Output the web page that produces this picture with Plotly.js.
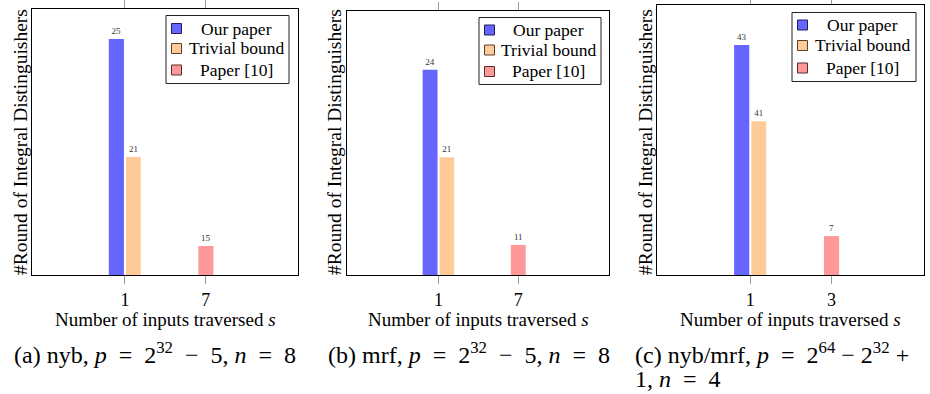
<!DOCTYPE html>
<html>
<head>
<meta charset="utf-8">
<script src="https://cdn.plot.ly/plotly-3.0.1.min.js"></script>
<style>html,body{margin:0;padding:0;background:#fff;}#chart{width:930px;height:394px;}</style>
</head>
<body>
<div id="chart"></div>
<script>
// ---- data ----
const seriesNames = ['Our paper', 'Trivial bound', 'Paper [10]'];
const seriesColors = ['rgb(102,102,255)', 'rgb(255,203,153)', 'rgb(255,153,153)'];
const swatchBorders = ['rgb(30,30,90)', 'rgb(90,65,40)', 'rgb(90,45,45)'];

// panel (a): nyb, p = 2^32 - 5, n = 8
const aTicks = ['1', '7'];
const aSeriesS = ['1', '1', '7'];          // s value of each series' bar
const aLabels = [25, 21, 15];              // printed value on each bar
const aHeights = [88.7, 44.4, 10.9];

// panel (b): mrf, p = 2^32 - 5, n = 8
const bTicks = ['1', '7'];
const bSeriesS = ['1', '1', '7'];
const bLabels = [24, 21, 11];
const bHeights = [77.7, 44.6, 11.4];

// panel (c): nyb/mrf, p = 2^64 - 2^32 + 1, n = 4
const cTicks = ['1', '3'];
const cSeriesS = ['1', '1', '3'];
const cLabels = [43, 41, 7];
const cHeights = [85.2, 56.9, 14.4];

const xTitle = 'Number of inputs traversed <i>s</i>';
const yTitle = '#Round of Integral Distinguishers';
const captions = [
  '(a) nyb, <i>p</i>\u2002=\u20022<sup>32</sup>\u2002\u2212\u20025, <i>n</i>\u2002=\u20028',
  '(b) mrf, <i>p</i>\u2002=\u20022<sup>32</sup>\u2002\u2212\u20025, <i>n</i>\u2002=\u20028',
  '(c) nyb/mrf, <i>p</i>\u2002=\u20022<sup>64</sup>\u2005\u2212\u20052<sup>32</sup>\u2005+',
  '1, <i>n</i>\u2002=\u20024'
];

// ---- layout geometry (pixels) ----
const W = 930, H = 394;
const FONT = "'Liberation Serif', 'DejaVu Serif', serif";
const panels = [
  {ticks: aTicks, S: aSeriesS, labels: aLabels, heights: aHeights,
   box: [32, 298, 9, 275], legend: [166, 289, 15.5, 83.5], rows: [28.5, 48.5, 70], capX: 12, capY: 353, yTitleX: 20},
  {ticks: bTicks, S: bSeriesS, labels: bLabels, heights: bHeights,
   box: [347, 609, 11, 275], legend: [479, 601, 17.5, 84.5], rows: [30, 50, 71.5], capX: 326, capY: 353, yTitleX: 334},
  {ticks: cTicks, S: cSeriesS, labels: cLabels, heights: cHeights,
   box: [657, 924, 5, 275], legend: [792, 916, 12.5, 81.5], rows: [25, 45.5, 68], capX: 633, capY: 353, yTitleX: 645}
];
const offsets = [-0.2, 0.0125, -0.093];
const widths = [0.187, 0.183, 0.187];

const px = x => x / W;
const py = y => 1 - y / H;

const traces = [];
const layout = {
  width: W, height: H, margin: {l: 0, r: 0, t: 0, b: 0},
  paper_bgcolor: '#fff', plot_bgcolor: '#fff',
  showlegend: false, barmode: 'overlay',
  font: {family: FONT, color: '#000'},
  annotations: [], shapes: []
};

panels.forEach((p, i) => {
  const k = i === 0 ? '' : String(i + 1);
  const [x0, x1, y0, y1] = p.box;
  layout['xaxis' + k] = {
    domain: [px(x0), px(x1)], anchor: 'y' + k, type: 'category',
    categoryorder: 'array', categoryarray: p.ticks,
    range: [-1.15, 2.14], showgrid: false, zeroline: false,
    showline: true, linecolor: '#000', linewidth: 1, mirror: 'ticks',
    ticks: 'outside', ticklen: 8, tickcolor: '#999', tickwidth: 1,
    tickfont: {family: FONT, size: 18, color: '#000'}, fixedrange: true
  };
  layout['yaxis' + k] = {
    domain: [py(y1), py(y0)], anchor: 'x' + k, range: [0, 100],
    showgrid: false, zeroline: false, showline: true, linecolor: '#000', linewidth: 1,
    mirror: true, ticks: '', showticklabels: false, fixedrange: true
  };
  seriesNames.forEach((name, j) => {
    traces.push({
      type: 'bar', name: name, xaxis: 'x' + k, yaxis: 'y' + k,
      x: [p.S[j]], y: [p.heights[j]], text: [String(p.labels[j])],
      textposition: 'outside', cliponaxis: false,
      textfont: {family: FONT, size: 9, color: '#333'},
      offset: offsets[j], width: widths[j],
      marker: {color: seriesColors[j], line: {width: 0}},
      hoverinfo: 'skip'
    });
  });
  // axis titles
  layout.annotations.push({
    xref: 'paper', yref: 'paper', x: px((x0 + x1) / 2), y: py(319),
    text: xTitle, showarrow: false, xanchor: 'center', yanchor: 'middle',
    font: {family: FONT, size: 19, color: '#000'}
  });
  layout.annotations.push({
    xref: 'paper', yref: 'paper', x: px(p.yTitleX), y: py(142),
    text: yTitle, showarrow: false, textangle: -90, xanchor: 'center', yanchor: 'middle',
    font: {family: FONT, size: 19.5, color: '#000'}
  });
  // caption
  layout.annotations.push({
    xref: 'paper', yref: 'paper', x: px(p.capX), y: py(p.capY),
    text: captions[i], showarrow: false, xanchor: 'left', yanchor: 'middle', align: 'left',
    font: {family: FONT, size: 24, color: '#000'}
  });
  // legend
  const [lx0, lx1, ly0, ly1] = p.legend;
  layout.shapes.push({
    type: 'rect', xref: 'paper', yref: 'paper',
    x0: px(lx0), x1: px(lx1), y0: py(ly1), y1: py(ly0),
    fillcolor: '#fff', line: {color: '#222', width: 1}, layer: 'above'
  });
  seriesNames.forEach((name, j) => {
    const cy = p.rows[j];
    layout.shapes.push({
      type: 'rect', xref: 'paper', yref: 'paper',
      x0: px(lx0 + 5.5), x1: px(lx0 + 15.5), y0: py(cy + 5), y1: py(cy - 5),
      fillcolor: seriesColors[j], line: {color: swatchBorders[j], width: 1}, layer: 'above'
    });
    layout.annotations.push({
      xref: 'paper', yref: 'paper', x: px((lx0 + 17 + lx1) / 2), y: py(cy),
      text: name, showarrow: false, xanchor: 'center', yanchor: 'middle',
      font: {family: FONT, size: 17.5, color: '#000'}
    });
  });
});
// second line of caption (c)
layout.annotations.push({
  xref: 'paper', yref: 'paper', x: px(633), y: py(379),
  text: captions[3], showarrow: false, xanchor: 'left', yanchor: 'middle', align: 'left',
  font: {family: FONT, size: 24, color: '#000'}
});

Plotly.newPlot('chart', traces, layout, {displayModeBar: false, staticPlot: true});
</script>
</body>
</html>
